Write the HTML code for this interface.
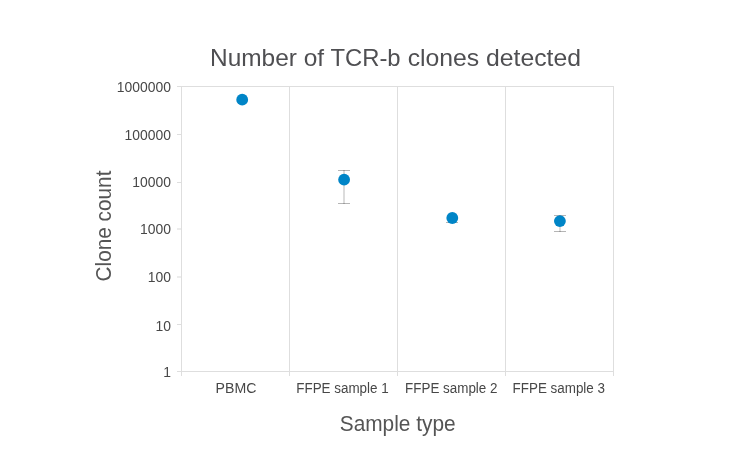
<!DOCTYPE html>
<html lang="en">
<head>
<meta charset="utf-8">
<title>Number of TCR-b clones detected</title>
<style>
html,body{margin:0;padding:0;background:#fff;}
body{width:736px;height:475px;overflow:hidden;position:relative;font-family:"Liberation Sans",Arial,Helvetica,sans-serif;}
svg{position:absolute;left:0;top:0;display:block;}
text{font-family:"Liberation Sans",Arial,Helvetica,sans-serif;}
.tick{font-size:13.9px;fill:#474747;}
.xl{font-size:14px;}
.title{font-size:24px;fill:#4f4f52;}
.axt{font-size:21.4px;fill:#555;}
</style>
</head>
<body>
<svg width="736" height="475" viewBox="0 0 736 475">
  <rect x="0" y="0" width="736" height="475" fill="#ffffff"/>
  <!-- plot frame and grid -->
  <g fill="#dedede" shape-rendering="crispEdges">
    <rect x="177" y="86" width="437" height="1"/>
    <rect x="177" y="371" width="437" height="1"/>
    <rect x="181" y="86" width="1" height="290"/>
    <rect x="289" y="86" width="1" height="290"/>
    <rect x="397" y="86" width="1" height="290"/>
    <rect x="505" y="86" width="1" height="290"/>
    <rect x="613" y="86" width="1" height="290"/>
    <rect x="177" y="134" width="4" height="1"/>
    <rect x="177" y="182" width="4" height="1"/>
    <rect x="177" y="228" width="4" height="2" fill="#ececec"/>
    <rect x="177" y="276" width="4" height="2" fill="#ececec"/>
    <rect x="177" y="324" width="4" height="1"/>
  </g>
  <!-- error bars -->
  <g shape-rendering="crispEdges">
    <rect x="343" y="170" width="2" height="34" fill="#dcdcdc"/>
    <rect x="338" y="170" width="12" height="1" fill="#000" fill-opacity="0.29"/>
    <rect x="338" y="203" width="12" height="1" fill="#000" fill-opacity="0.29"/>
    <rect x="446" y="222" width="12" height="1" fill="#000" fill-opacity="0.29"/>
    <rect x="559" y="215" width="2" height="17" fill="#dcdcdc"/>
    <rect x="554" y="215" width="12" height="1" fill="#000" fill-opacity="0.29"/>
    <rect x="554" y="231" width="12" height="1" fill="#000" fill-opacity="0.29"/>
  </g>
  <!-- points -->
  <g fill="#0085c7">
    <circle cx="242.2" cy="99.7" r="5.9"/>
    <circle cx="344.1" cy="179.7" r="5.9"/>
    <circle cx="452.3" cy="218" r="5.9"/>
    <circle cx="559.9" cy="221.1" r="5.9"/>
  </g>
  <!-- title -->
  <text id="title" class="title" y="65.7"><tspan id="t1" x="210.0" textLength="114.1" lengthAdjust="spacingAndGlyphs">Number of</tspan> <tspan id="t2" x="330.4" textLength="70.2" lengthAdjust="spacingAndGlyphs">TCR-b</tspan> <tspan id="t3" x="407.7" textLength="173.3" lengthAdjust="spacingAndGlyphs">clones detected</tspan></text>
  <!-- y tick labels -->
  <g class="tick" text-anchor="end">
    <text id="y6" x="170.9" y="91.7">1000000</text>
    <text id="y5" x="170.9" y="139.9">100000</text>
    <text id="y4" x="170.9" y="186.9">10000</text>
    <text id="y3" x="170.9" y="233.9">1000</text>
    <text id="y2" x="170.9" y="282.1">100</text>
    <text id="y1" x="170.9" y="330.9">10</text>
    <text id="y0" x="170.9" y="377.2">1</text>
  </g>
  <!-- x tick labels -->
  <g class="tick xl" text-anchor="middle">
    <text id="x1" x="236" y="392.6" textLength="40.8" lengthAdjust="spacingAndGlyphs">PBMC</text>
    <text id="x2" x="342.5" y="392.6" textLength="92.4" lengthAdjust="spacingAndGlyphs">FFPE sample 1</text>
    <text id="x3" x="451.3" y="392.6" textLength="92.4" lengthAdjust="spacingAndGlyphs">FFPE sample 2</text>
    <text id="x4" x="558.8" y="392.6" textLength="92.4" lengthAdjust="spacingAndGlyphs">FFPE sample 3</text>
  </g>
  <!-- axis titles -->
  <text id="xt" class="axt" x="397.7" y="430.9" text-anchor="middle" textLength="115.9" lengthAdjust="spacingAndGlyphs">Sample type</text>
  <text id="yt" class="axt" transform="translate(111.2 226) rotate(-90)" text-anchor="middle" textLength="110.8" lengthAdjust="spacingAndGlyphs">Clone count</text>
</svg>
</body>
</html>
